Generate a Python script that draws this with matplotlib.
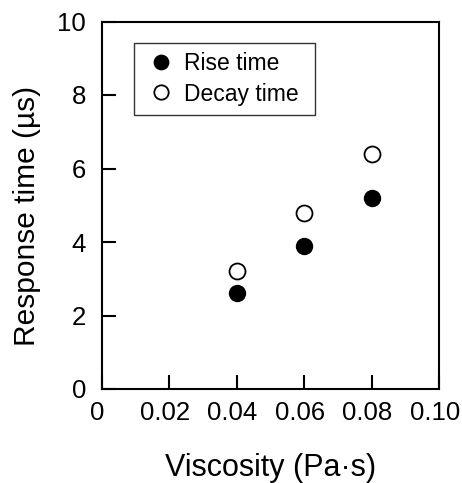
import matplotlib.pyplot as plt
from matplotlib.transforms import ScaledTranslation

plt.rcParams['font.family'] = ['Liberation Sans', 'DejaVu Sans']

viscosity = [0.04, 0.06, 0.08]
rise_time = [2.6, 3.9, 5.2]
decay_time = [3.2, 4.8, 6.4]

fig = plt.figure(figsize=(4.62, 4.83), dpi=100)
ax = fig.add_axes([101.5 / 462, 1 - 389 / 483, (439 - 101.5) / 462, (389 - 21.5) / 483])

ax.plot(viscosity, rise_time, 'o', color='black', markersize=11.5, label='Rise time')
ax.plot(viscosity, decay_time, 'o', markerfacecolor='white', markeredgecolor='black',
        markeredgewidth=1.3, markersize=11.5, label='Decay time')

ax.set_xlim(0, 0.10)
ax.set_ylim(0, 10)
ax.set_xticks([0, 0.02, 0.04, 0.06, 0.08, 0.10])
ax.set_xticklabels(['0', '0.02', '0.04', '0.06', '0.08', '0.10'])
ax.set_yticks([0, 2, 4, 6, 8, 10])

for s in ax.spines.values():
    s.set_linewidth(1.5)
ax.tick_params(direction='in', length=10, width=1.5, labelsize=18.5, top=False, right=False)
ax.tick_params(axis='y', pad=11)
ax.tick_params(axis='x', pad=9)

# x tick labels sit a few pixels left of their ticks in the original
shift = ScaledTranslation(-4 / 100, 0, fig.dpi_scale_trans)
for lbl in ax.get_xticklabels():
    lbl.set_transform(lbl.get_transform() + shift)

ax.set_xlabel('Viscosity (Pa\u00b7s)', fontsize=22, labelpad=20)
ax.set_ylabel('Response time (\u00b5s)', fontsize=21.5, labelpad=12)
ax.yaxis.label.set_y(0.47)  # sits a bit below centre in the original

w = 337.5
h = 367.5
leg = ax.legend(loc='upper left', mode='expand',
                bbox_to_anchor=((134 - 101.5) / w, 1 - (43 - 21.5) / h - 0.2, (315 - 134) / w, 0.2),
                borderaxespad=0, fontsize=16.5, frameon=True, fancybox=False, edgecolor='black',
                handletextpad=0.25, borderpad=0.4, labelspacing=0.32, handlelength=1.55,
                markerscale=0.9)
leg.get_frame().set_linewidth(1.0)

fig.savefig('out.png', dpi=100)
